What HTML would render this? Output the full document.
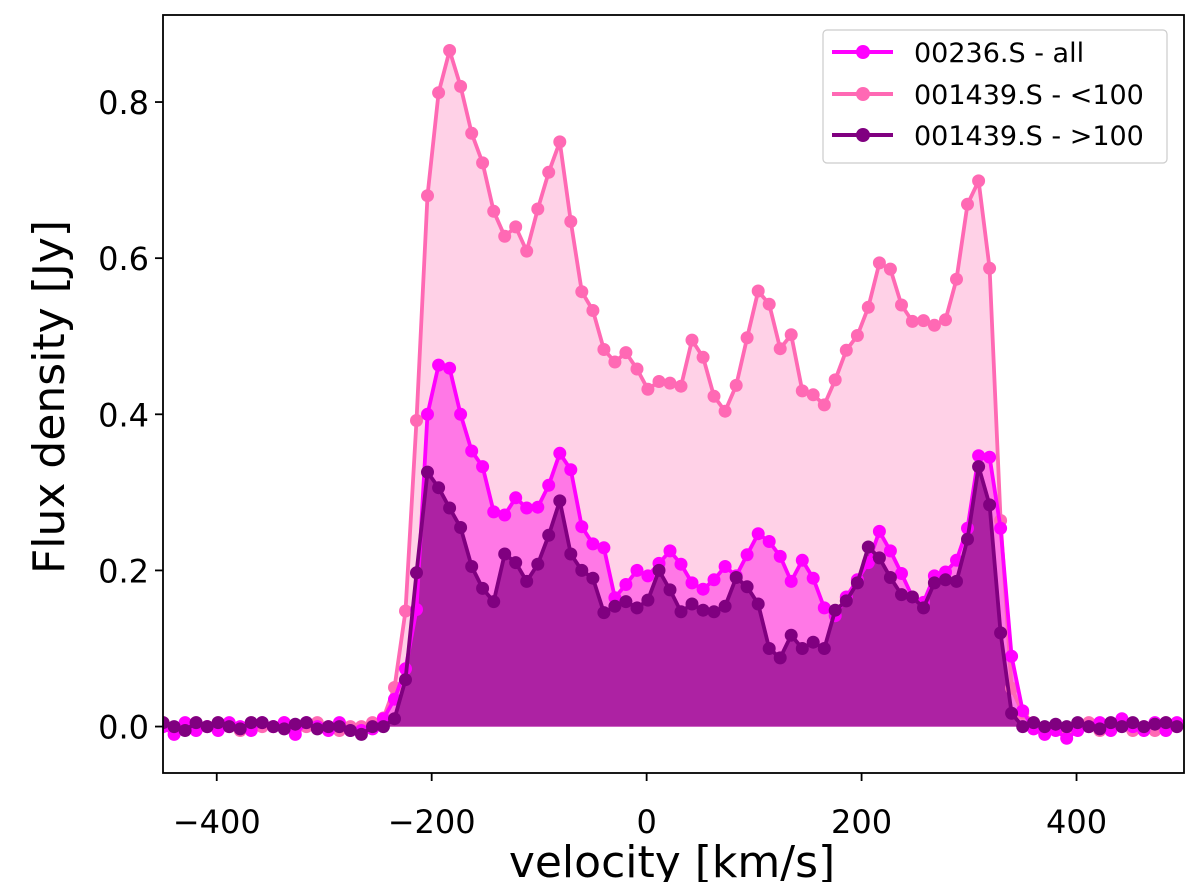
<!DOCTYPE html>
<html><head><meta charset="utf-8"><style>
html,body{margin:0;padding:0;background:#fff;}
svg{display:block;font-family:"DejaVu Sans","Liberation Sans",sans-serif;}
</style></head><body>
<svg id="chart" width="1200" height="882" viewBox="0 0 1200 882">
<defs><clipPath id="pc"><rect x="163" y="15" width="1021" height="758"/></clipPath></defs>
<g id="plot" clip-path="url(#pc)"></g>
<rect x="163" y="15" width="1021" height="758" fill="none" stroke="#000" stroke-width="1.8"/>
<g id="xticks"></g>
<g id="yticks"></g>
<text x="672" y="877" font-size="44" text-anchor="middle">velocity [km/s]</text>
<text transform="translate(64,397) rotate(-90)" font-size="44" text-anchor="middle">Flux density [Jy]</text>
<g>
<rect x="823" y="30" width="344" height="133" rx="4" fill="#fff" fill-opacity="0.85" stroke="#ccc" stroke-width="1.2"/>
<g><line x1="832" y1="52" x2="893" y2="52" stroke="#ff00ff" stroke-width="4"/><circle cx="863" cy="52" r="7" fill="#ff00ff"/><text x="914" y="62" font-size="27">00236.S - all</text></g>
<g><line x1="832" y1="94" x2="893" y2="94" stroke="#ff69b4" stroke-width="4"/><circle cx="863" cy="94" r="7" fill="#ff69b4"/><text x="914" y="104" font-size="27">001439.S - &lt;100</text></g>
<g><line x1="832" y1="135" x2="893" y2="135" stroke="#800080" stroke-width="4"/><circle cx="863" cy="135" r="7" fill="#800080"/><text x="914" y="145" font-size="27">001439.S - &gt;100</text></g>
</g>
</svg>
<script>
const velocity=[-460.2,-449.9,-439.7,-429.4,-419.2,-408.9,-398.7,-388.4,-378.2,-367.9,-357.7,-347.4,-337.2,-326.9,-316.6,-306.4,-296.1,-285.9,-275.6,-265.4,-255.1,-244.9,-234.6,-224.4,-214.1,-203.9,-193.6,-183.3,-173.1,-162.8,-152.6,-142.3,-132.1,-121.8,-111.6,-101.3,-91.1,-80.8,-70.6,-60.3,-50.0,-39.8,-29.5,-19.3,-9.0,1.2,11.5,21.7,32.0,42.2,52.5,62.7,73.0,83.3,93.5,103.8,114.0,124.3,134.5,144.8,155.0,165.3,175.5,185.8,196.1,206.3,216.6,226.8,237.1,247.3,257.6,267.8,278.1,288.3,298.6,308.9,319.1,329.4,339.6,349.9,360.1,370.4,380.6,390.9,401.1,411.4,421.7,431.9,442.2,452.4,462.7,472.9,483.2,493.4];
const fluxLt100=[0.01,0.005,-0.005,0.0,0.005,0.0,0.005,0.0,-0.005,0.005,0.0,0.0,0.005,-0.005,0.0,0.005,0.0,-0.005,0.0,
0.0,0.005,0.011,0.05,0.148,0.392,0.68,0.812,0.866,0.82,0.76,0.722,0.66,0.628,0.64,0.609,0.663,0.71,0.749,0.647,0.557,0.533,0.483,0.467,0.479,0.458,0.432,0.442,0.44,
0.436,0.495,0.473,0.423,0.404,0.437,0.498,0.558,0.541,0.484,0.502,0.43,0.425,0.412,0.444,0.482,0.501,0.537,0.594,0.586,0.54,0.519,0.52,0.514,0.521,0.573,0.669,0.699,0.587,0.264,0.049,0.017,
0.005,-0.005,0.0,-0.01,0.0,0.005,-0.005,0.0,0.005,-0.005,0.0,-0.005,0.005,0.0];
const fluxAll=[0.01,0.0,-0.01,0.005,-0.005,0.0,-0.005,0.005,0.0,-0.005,0.005,0.0,0.005,-0.01,0.005,0.0,-0.005,0.005,-0.005,
-0.005,-0.003,0.01,0.035,0.074,0.15,0.40,0.463,0.459,0.40,0.353,0.333,0.275,0.271,0.293,0.28,0.281,0.309,0.35,0.329,0.256,0.234,0.229,0.165,0.182,0.2,0.193,0.209,0.225,
0.208,0.184,0.176,0.188,0.205,0.193,0.22,0.247,0.237,0.218,0.186,0.213,0.19,0.152,0.142,0.166,0.188,0.21,0.25,0.225,0.196,0.166,0.159,0.193,0.198,0.213,0.254,0.347,0.345,0.254,0.09,0.02,
-0.003,-0.01,-0.005,-0.015,-0.005,0.0,0.005,-0.005,0.01,0.0,-0.005,0.005,-0.005,0.005];
const fluxGt100=[0.005,0.005,0.0,-0.005,0.005,0.0,0.005,0.0,-0.003,0.005,0.005,0.0,-0.003,0.003,0.005,-0.003,0.0,0.0,-0.005,
-0.01,0.0,0.0,0.01,0.06,0.197,0.326,0.306,0.28,0.255,0.205,0.177,0.16,0.221,0.21,0.186,0.208,0.245,0.289,0.221,0.2,0.19,0.146,0.154,0.16,0.152,0.162,0.2,0.175,
0.147,0.157,0.149,0.147,0.154,0.191,0.179,0.157,0.1,0.088,0.117,0.1,0.108,0.1,0.149,0.161,0.184,0.23,0.216,0.191,0.169,0.166,0.152,0.184,0.188,0.186,0.24,0.333,0.284,0.12,0.017,0.0,
0.005,0.0,0.003,0.0,0.005,0.0,-0.003,0.005,0.0,0.005,0.0,0.003,0.005,0.0];
const xTicks=[-400,-200,0,200,400];
const yTicks=[0.0,0.2,0.4,0.6,0.8];

const NS='http://www.w3.org/2000/svg';
const X0=163,X1=1184,Y0=773,Y1=15,xmin=-450,xmax=500,ymin=-0.0595,ymax=0.9115;
function xs(v){return X0+(v-xmin)/(xmax-xmin)*(X1-X0);}
function ys(v){return Y0-(v-ymin)/(ymax-ymin)*(Y0-Y1);}
function mk(t,a,p){const e=document.createElementNS(NS,t);for(const k in a)e.setAttribute(k,a[k]);p.appendChild(e);return e;}
const plot=document.getElementById('plot');
const series=[
 {d:fluxLt100,c:'#ff69b4',f:'#ffd1e7',n:'series-001439-lt100'},
 {d:fluxAll,c:'#ff00ff',f:'#ff78e6',n:'series-00236-all'},
 {d:fluxGt100,c:'#800080',f:'#ad22a3',n:'series-001439-gt100'}
];
series.forEach(s=>{
 let pts=velocity.map((v,i)=>xs(v).toFixed(1)+','+ys(s.d[i]).toFixed(1));
 const fp='M'+xs(velocity[0]).toFixed(1)+','+ys(0).toFixed(1)+' L'+pts.join(' L')+' L'+xs(velocity[velocity.length-1]).toFixed(1)+','+ys(0).toFixed(1)+'Z';
 const fe=mk('path',{d:fp,fill:s.f,stroke:'none'},plot);
 
 
});
series.forEach(s=>{
 const g=mk('g',{},plot);
 
 
 const pts=velocity.map((v,i)=>xs(v).toFixed(1)+','+ys(s.d[i]).toFixed(1));
 const ln=mk('polyline',{points:pts.join(' '),fill:'none',stroke:s.c,'stroke-width':3.8,'stroke-linejoin':'round'},g);
 
 
 velocity.forEach((v,i)=>{
  const c=mk('circle',{cx:xs(v).toFixed(1),cy:ys(s.d[i]).toFixed(1),r:6.5,fill:s.c},g);
  
  
 });
});
const xg=document.getElementById('xticks');
xTicks.forEach(t=>{
 const x=xs(t);
 const l=mk('line',{x1:x,y1:Y0,x2:x,y2:Y0+8,stroke:'#000','stroke-width':1.8},xg);
 
 
 const tx=mk('text',{x:x,y:Y0+60,'font-size':32,'text-anchor':'middle'},xg);
 
 
 tx.textContent=(t<0?'\u2212'+Math.abs(t):String(t));
});
const yg=document.getElementById('yticks');
yTicks.forEach(t=>{
 const y=ys(t);
 const l=mk('line',{x1:X0-8,y1:y,x2:X0,y2:y,stroke:'#000','stroke-width':1.8},yg);
 
 
 const tx=mk('text',{x:X0-14,y:y+12,'font-size':32,'text-anchor':'end'},yg);
 
 
 tx.textContent=t.toFixed(1);
});
</script>
</body></html>
